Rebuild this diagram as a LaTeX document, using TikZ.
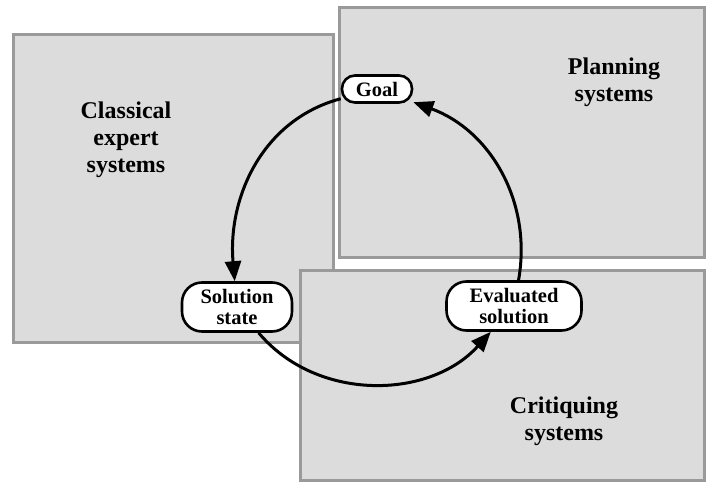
\documentclass[tikz,border=0pt]{standalone}
\usepackage{fontspec}
\setmainfont{Liberation Serif}
\usetikzlibrary{arrows.meta}
\definecolor{boxgray}{HTML}{9A9A9A}
\definecolor{boxfill}{HTML}{DCDCDC}
\begin{document}
\begin{tikzpicture}[x=1pt,y=1pt,
  region/.style={draw=boxgray, line width=3pt, fill=boxfill},
  regionlabel/.style={font=\fontsize{24}{27}\selectfont\bfseries, align=center, inner sep=0pt},
  statebox/.style={draw=black, line width=2.6pt, fill=white, font=\fontsize{20.5}{21.5}\selectfont\bfseries, align=center, inner sep=0pt},
  arr/.style={line width=3pt, -{Triangle[length=20pt,width=16pt]}}]
\useasboundingbox (0,0) rectangle (706,482);
% regions
\path[region] (13,140) rectangle (333,447);
\path[region] (339,224) rectangle (704,474);
\path[region] (300,2) rectangle (704,211);
\node[regionlabel] (lclassical) at (126,342) {Classical\\expert\\systems};
\node[regionlabel] (lplanning) at (614,400) {Planning\\systems};
\node[regionlabel] (lcritiquing) at (564,61) {Critiquing\\systems};
% states
\node[statebox, minimum width=70pt, minimum height=27pt, rounded corners=13pt] (goal) at (377,393) {Goal};
\node[statebox, minimum width=110pt, minimum height=49pt, rounded corners=20pt] (sol) at (237,175) {Solution\\state};
\node[statebox, minimum width=135pt, minimum height=49pt, rounded corners=20pt] (eval) at (514,176) {Evaluated\\solution};
% cycle
\draw[arr] (goal) to[out=195, in=95] (sol);
\draw[arr] (sol) to[out=310, in=228] (eval);
\draw[arr] (eval) to[out=80, in=340] (goal);
\end{tikzpicture}
\end{document}
